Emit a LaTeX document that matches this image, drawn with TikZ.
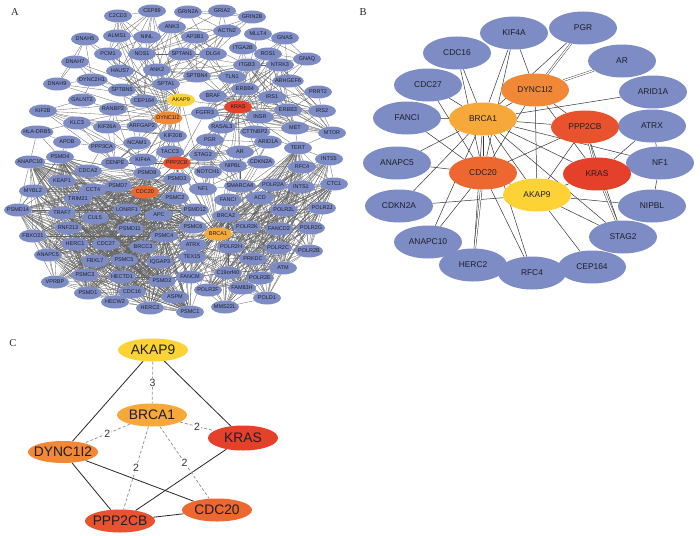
\documentclass[tikz,border=0pt]{standalone}
\usepackage{fontspec}
\setmainfont{Liberation Sans}
\newfontfamily\panelfont{Liberation Serif}
\usetikzlibrary{shapes.geometric,backgrounds}
\definecolor{nblue}{RGB}{125,140,196}
\definecolor{ckras}{RGB}{228,64,42}
\definecolor{cppp}{RGB}{232,82,45}
\definecolor{ccdc}{RGB}{236,104,48}
\definecolor{cdync}{RGB}{240,136,55}
\definecolor{cbrca}{RGB}{246,168,56}
\definecolor{cakap}{RGB}{253,210,52}
\definecolor{txt}{RGB}{30,30,40}
\newcommand\ab[1]{\makebox[0.72\width]{#1}}
\newcommand\zb[1]{\makebox[0pt]{#1}}
\newcommand\aclique[1]{\foreach \u [count=\i] in {#1} {\foreach \v [count=\j] in {#1} {\ifnum\j>\i\relax \draw[aedge] (a\u) -- (a\v);\fi}}}
\newcommand\abip[2]{\foreach \u in {#1} {\foreach \v in {#2} {\draw[aedge] (a\u) -- (a\v);}}}
\tikzset{
  anode/.style={ellipse, fill=nblue, draw=none, inner xsep=1.8pt, inner ysep=0pt, minimum width=28pt, minimum height=13pt, font=\fontsize{5.5}{6}\selectfont, text=txt},
  bnode/.style={ellipse, fill=nblue, draw=none, inner sep=0pt, minimum width=68pt, minimum height=33pt, font=\fontsize{8.4}{10}\selectfont, text=txt},
  cnode/.style={ellipse, draw=none, inner sep=0pt, minimum width=70pt, minimum height=23pt, font=\fontsize{13.8}{16}\selectfont, text=txt},
  aedge/.style={draw=black!62, line width=0.3pt},
  bedge/.style={draw=black!80, line width=0.5pt},
  bdbl/.style={draw=black!80, line width=0.45pt, double=white, double distance=1.3pt},
  csolid/.style={draw=black!85, line width=0.8pt},
  cdash/.style={draw=black!45, line width=0.7pt, dash pattern=on 3pt off 2pt},
  clab/.style={font=\fontsize{10.5}{12}\selectfont, text=black!80, fill=white, inner sep=0.6pt},
  plabel/.style={font=\panelfont\fontsize{10.5}{12}\selectfont, text=black!85},
}
\begin{document}
\begin{tikzpicture}[x=1pt,y=-1pt]
\useasboundingbox (0,0) rectangle (700,535);
\node[plabel] (labA) at (15,12) {A};
\node[plabel] (labB) at (363,12) {B};
\node[plabel] (labC) at (13,343) {C};
% ---------------- Panel A nodes
\foreach \n/\x/\y in {C2CD3/118/16, CEP89/152/11, GRIN2A/188/12, GRIA2/222/11, GRIN2B/252/17, ANK3/172/27, ACTN2/227/31, AP3B1/195/37, MLLT4/258/34, GNAS/285/38, DNAH5/85/39, ALMS1/117/36, NINL/147/37, ITGA2B/243/48, PCM1/108/54, NOS1/142/54, SPTAN1/182/54, DLG4/213/54, ROS1/268/54, GNAQ/307/59, DNAH7/75/62, HAUS7/120/71, ANK2/157/70, ITGB3/247/65, NTRK3/280/65, SPTBN4/197/76, TLN1/232/77, ARHGEF6/288/81, DNAH9/57/84, DYNC2H1/92/80, SPTA1/166/84, ERBB4/245/89, SPTBN5/122/90, PRRT2/318/92, GALNT2/82/100, CEP164/144/101, BRAF/213/96, IRS1/272/97, RANBP2/113/109, KIF2B/43/111, ERBB3/288/110, IRS2/322/111, FGFR3/205/113, INSR/260/117, KLC3/77/123, KIF26A/107/127, ARFGAP2/142/126, RASAL3/222/127, MET/295/128, CTTNBP2/255/132, MTOR/332/133, KIF20B/173/136, PGR/210/140, APOB/67/142, NCAM1/137/143, ARID1A/268/142, PPP3CA/102/147, TERT/298/148, AR/240/152, TACC3/170/152, STAG2/203/155, PSMD4/60/157, INTS5/329/159, KIF4A/143/160, ANAPC10/30/162, CENPE/115/163, CDKN2A/261/162, NIPBL/233/166, RFC4/302/167, CDCA2/88/171, NOTCH1/208/172, PSMD8/147/173, PSMD3/177/179, KEAP1/62/181, CTC1/334/184, POLR2A/273/185, SMARCA4/240/186, PSMD7/118/186, INTS1/301/187, NF1/203/189, CCT4/93/190, MYBL2/33/191, PSMC2/175/198, TRIM21/78/199, ACD/260/198, FANCI/228/200, POLR2J/322/208, PSMD12/195/210, POLR2L/284/210, PSMD14/18/210, LONRF1/127/210, TRAF7/62/213, APC/159/215, BRCA2/226/216, CUL5/95/218, PSMC6/193/227, POLR2K/247/227, FANCD2/279/229, POLR2G/311/228, RNF213/68/228, PSMD11/130/229, FBXO21/33/236, PSMC4/164/236, HERC1/75/244, CDC27/106/244, ATRX/193/245, BRCC3/143/247, POLR2H/231/247, POLR2C/278/248, POLR2B/309/251, ANAPC5/48/255, TEX15/192/257, PRKDC/253/259, FBXL7/95/261, PSMC5/124/260, IQGAP3/160/262, ATM/283/268, C19orf40/228/273, PSMC3/85/275, HECTD1/122/277, FANCM/190/277, POLR2E/260/278, VPRBP/55/282, PSMD2/162/281, FAM83H/242/288, POLR2F/208/290, PSMD1/88/293, CDC16/132/292, ASPM/175/297, POLD1/267/298, HECW2/115/302, HERC2/150/308, MMS22L/225/307, PSMC1/190/312}
  {\node[anode] (a\n) at (\x,\y) {\ab{\n}};}
\node[anode] (aHLADRB5) at (37,132) {\ab{HLA-DRB5}};
\node[anode, fill=cakap] (aAKAP9) at (181,100) {\ab{AKAP9}};
\node[anode, fill=cdync] (aDYNC1I2) at (168,118) {\ab{DYNC1I2}};
\node[anode, fill=ckras] (aKRAS) at (238,107) {\ab{KRAS}};
\node[anode, fill=cppp] (aPPP2CB) at (177,163) {\ab{PPP2CB}};
\node[anode, fill=ccdc] (aCDC20) at (145,192) {\ab{CDC20}};
\node[anode, fill=cbrca] (aBRCA1) at (218,234) {\ab{BRCA1}};
% ---------------- Panel A edges
\begin{pgfonlayer}{background}
\aclique{PSMD14,PSMD4,PSMD7,PSMD8,PSMD3,PSMC2,PSMD12,PSMC6,PSMD11,PSMC4,PSMC5,PSMC3,PSMD1,PSMD2,PSMC1,CDC20,CDC27,CDC16,ANAPC10,ANAPC5}
\abip{KEAP1,TRIM21,TRAF7,CUL5,LONRF1,RNF213,VPRBP,FBXO21,FBXL7,HERC1,HERC2,HECW2,HECTD1,MYBL2,CCT4,BRCC3,APC}{PSMD14,PSMD4,PSMD7,PSMD8,PSMD3,PSMC2,PSMD12,PSMC6,PSMD11,PSMC4,PSMC5,PSMC3,PSMD1,PSMD2,PSMC1,CDC20,CDC27,CDC16,ANAPC10,ANAPC5}
\aclique{POLR2A,POLR2B,POLR2C,POLR2E,POLR2F,POLR2G,POLR2H,POLR2J,POLR2K,POLR2L,INTS1,INTS5}
\aclique{BRCA1,BRCA2,FANCD2,FANCI,FANCM,ATM,PRKDC,ATRX,TEX15,C19orf40,MMS22L,POLD1,RFC4,FAM83H,ACD,TERT,CTC1}
\abip{BRCA1,BRCA2,PRKDC,ATM,CTC1,TERT,SMARCA4}{POLR2A,POLR2B,POLR2C,POLR2E,POLR2F,POLR2G,POLR2H,POLR2J,POLR2K,POLR2L,INTS1,INTS5}
\abip{BRCA1,BRCC3,ASPM,IQGAP3,ATRX,TEX15,FANCM,PSMC1}{CDC20,CDC27,PSMD2,PSMC4,PSMC5,HECTD1,APC,CDC16,HERC2,BRCA2}
\abip{DYNC1I2,AKAP9}{CEP89,C2CD3,ALMS1,NINL,PCM1,HAUS7,CEP164,DYNC2H1,DNAH5,DNAH7,DNAH9,KIF2B,KLC3,KIF26A,KIF20B,KIF4A,CENPE,RANBP2,ARFGAP2,TACC3,NOS1,ANK2,SPTA1}
\aclique{CEP89,C2CD3,ALMS1,NINL,PCM1,HAUS7,CEP164}
\aclique{DNAH5,DNAH7,DNAH9,DYNC2H1}
\aclique{KIF2B,KLC3,KIF26A,KIF20B,KIF4A,CENPE}
\abip{HLADRB5}{APOB,PSMD4,ANAPC10,KLC3}
\abip{APOB}{PPP3CA,KEAP1,PSMD4}
\abip{PPP3CA}{NCAM1,CDCA2,CENPE}
\abip{NCAM1}{SPTBN5,ARFGAP2,CENPE}
\abip{GALNT2}{KIF2B,RANBP2,DYNC2H1}
\abip{RANBP2}{CENPE,CDC20,KIF26A}
\aclique{SPTA1,SPTAN1,SPTBN4,SPTBN5,ANK2,ANK3}
\aclique{GRIN2A,GRIN2B,GRIA2,DLG4,ACTN2,NOS1}
\abip{SPTA1,SPTAN1,SPTBN4,ANK2,ANK3}{ACTN2,DLG4,TLN1,ITGB3,AP3B1}
\aclique{ITGA2B,ITGB3,TLN1}
\aclique{KRAS,BRAF,ERBB4,ERBB3,IRS1,IRS2,INSR,FGFR3,MET,MTOR,ROS1,NTRK3,ITGB3,RASAL3}
\abip{KRAS}{AKAP9,DYNC1I2,PPP2CB,CDC20,BRCA1,APC,NOTCH1,ARID1A,SMARCA4,CDKN2A,TERT,PGR,AR,STAG2,NIPBL,NF1,CTTNBP2,GNAS,GNAQ,MLLT4,ARHGEF6,TLN1,ITGA2B,SPTBN4,SPTAN1,AP3B1,PRRT2,DLG4}
\abip{GNAS,GNAQ}{MLLT4,ARHGEF6,ITGB3,ROS1}
\draw[aedge] (aGNAS) -- (aGNAQ);
\abip{PPP2CB}{DYNC1I2,AKAP9,CDC20,BRCA1,TACC3,KIF4A,KIF20B,PSMD8,PSMD3,NOTCH1,STAG2,NIPBL,AR,PGR,NF1,PSMC2,APC,CENPE,CDKN2A,ARID1A,SMARCA4,RFC4,ATRX,RASAL3,FGFR3}
\abip{CDC20}{DYNC1I2,AKAP9,BRCA1,KIF4A,CENPE,TACC3,KIF20B,CDCA2,MYBL2,APC,PSMD8,NCAM1,KEAP1}
\abip{BRCA1}{DYNC1I2,AKAP9,NF1,STAG2,NIPBL,ARID1A,SMARCA4,CDKN2A,AR,PGR,KIF4A,CDC16,CDC27,ANAPC5,ANAPC10,HERC2,CEP164,NOTCH1,PSMC6,PSMD12}
\aclique{AR,PGR,STAG2,NIPBL,SMARCA4,ARID1A}
\abip{NF1}{NOTCH1,CDKN2A,RASAL3,SMARCA4}
\abip{TERT}{MTOR,CTTNBP2,MET}
\abip{PRRT2}{IRS1,ERBB3,IRS2}
\abip{CTTNBP2}{INSR,ARID1A,RASAL3}
\end{pgfonlayer}
% ---------------- Panel B nodes
\foreach \n/\x/\y in {KIF4A/514/33, PGR/583/28, CDC16/457/53, AR/622/61, CDC27/428/85, ARID1A/653/92, FANCI/407/118, ATRX/652/126, ANAPC5/397/163, NF1/660/163, CDKN2A/399/206, NIPBL/652/206, ANAPC10/428/242, STAG2/623/237, HERC2/473/265, RFC4/532/273, CEP164/592/267}
  {\node[bnode] (b\n) at (\x,\y) {\zb{\n}};}
\node[bnode, fill=cdync] (bDYNC1I2) at (535,90) {\zb{DYNC1I2}};
\node[bnode, fill=cbrca] (bBRCA1) at (483,119) {\zb{BRCA1}};
\node[bnode, fill=cppp] (bPPP2CB) at (585,127) {\zb{PPP2CB}};
\node[bnode, fill=ccdc] (bCDC20) at (483,173) {\zb{CDC20}};
\node[bnode, fill=ckras] (bKRAS) at (597,174) {\zb{KRAS}};
\node[bnode, fill=cakap] (bAKAP9) at (537,195) {\zb{AKAP9}};
\begin{pgfonlayer}{background}
\foreach \u/\v in {KIF4A/BRCA1, KIF4A/CDC20, KIF4A/DYNC1I2, PGR/BRCA1, CDC16/BRCA1, CDC16/CDC20, CDC27/BRCA1, CDC27/CDC20, ARID1A/BRCA1, FANCI/BRCA1, FANCI/CDC20, ATRX/KRAS, ATRX/NF1, NF1/NIPBL, NF1/BRCA1, NF1/KRAS, ANAPC5/BRCA1, ANAPC5/CDC20, CDKN2A/BRCA1, CDKN2A/AKAP9, ANAPC10/CDC20, ANAPC10/BRCA1, HERC2/BRCA1, RFC4/BRCA1, RFC4/CDC20, CEP164/AKAP9, STAG2/AKAP9, STAG2/BRCA1, STAG2/PPP2CB, NIPBL/AKAP9, DYNC1I2/BRCA1, DYNC1I2/PPP2CB, DYNC1I2/KRAS, DYNC1I2/CDC20, DYNC1I2/AKAP9, BRCA1/PPP2CB, BRCA1/CDC20, BRCA1/KRAS, BRCA1/AKAP9, PPP2CB/CDC20, PPP2CB/AKAP9, KRAS/AKAP9, CDC20/AKAP9}
  {\draw[bedge] (b\u) -- (b\v);}
\foreach \u/\v in {PGR/DYNC1I2, AR/DYNC1I2, PPP2CB/KRAS, HERC2/CDC20, STAG2/KRAS}
  {\draw[bdbl] (b\u) -- (b\v);}
\end{pgfonlayer}
% ---------------- Panel C
\node[cnode, fill=cakap] (cAKAP9) at (153,350) {\zb{AKAP9}};
\node[cnode, fill=cbrca] (cBRCA1) at (152,415) {\zb{BRCA1}};
\node[cnode, fill=ckras, minimum height=25pt] (cKRAS) at (243,438) {\zb{KRAS}};
\node[cnode, fill=cdync, minimum height=22pt] (cDYNC1I2) at (63,452) {\zb{DYNC1I2}};
\node[cnode, fill=ccdc] (cCDC20) at (217,510) {\zb{CDC20}};
\node[cnode, fill=cppp] (cPPP2CB) at (120,521) {\zb{PPP2CB}};
\begin{pgfonlayer}{background}
\draw[csolid] (cAKAP9) -- (cDYNC1I2);
\draw[csolid] (cAKAP9) -- (cKRAS);
\draw[csolid] (cDYNC1I2) -- (cPPP2CB);
\draw[csolid] (cDYNC1I2) -- (cCDC20);
\draw[csolid] (cKRAS) -- (cPPP2CB);
\draw[csolid] (cPPP2CB) -- (cCDC20);
\draw[cdash] (cAKAP9) -- node[clab] {3} (cBRCA1);
\draw[cdash] (cBRCA1) -- node[clab] {2} (cDYNC1I2);
\draw[cdash] (cBRCA1) -- node[clab] {2} (cKRAS);
\draw[cdash] (cBRCA1) -- node[clab] {2} (cPPP2CB);
\draw[cdash] (cBRCA1) -- node[clab] {2} (cCDC20);
\end{pgfonlayer}
\end{tikzpicture}
\end{document}
